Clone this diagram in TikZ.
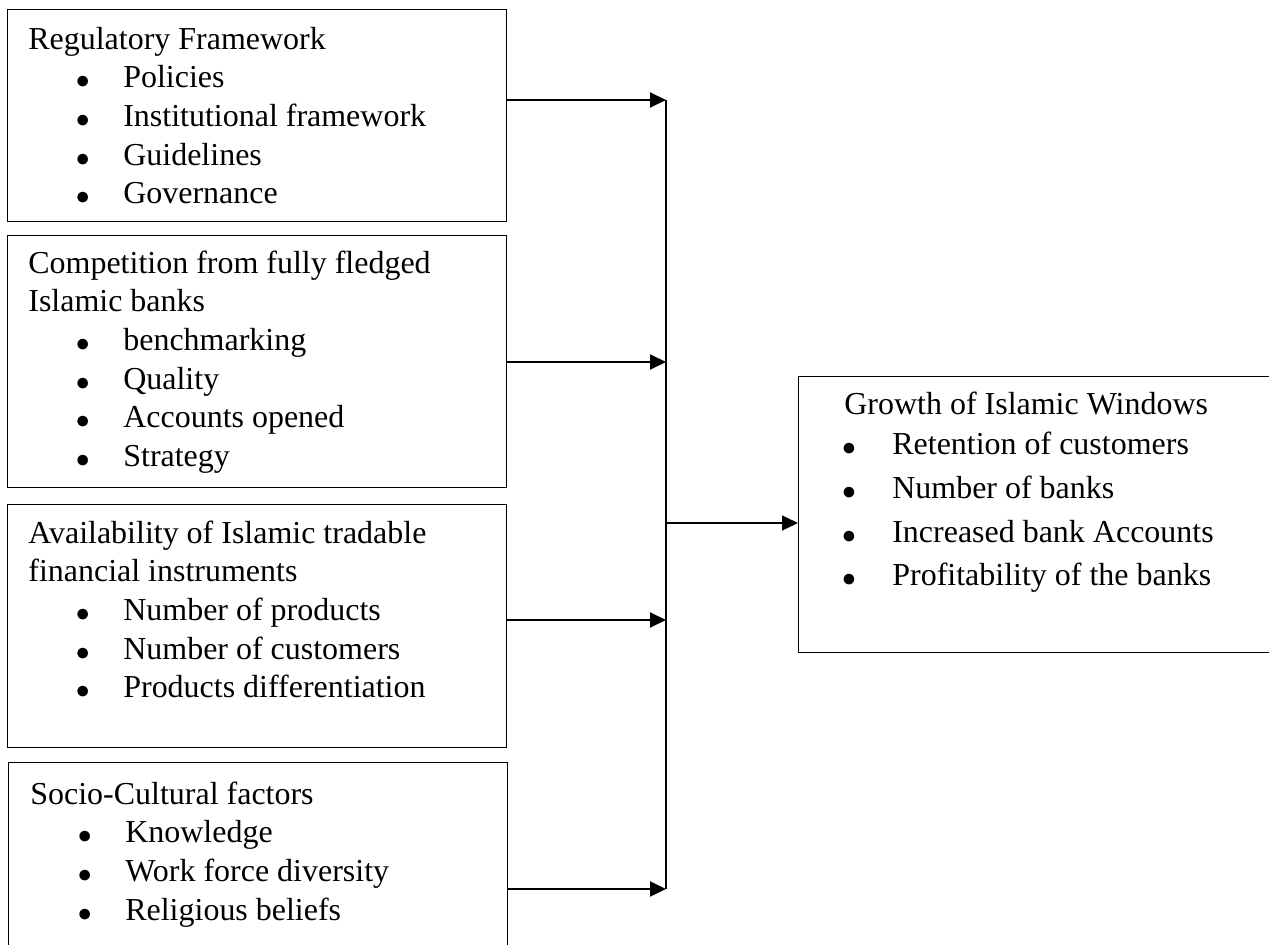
\documentclass[tikz,border=0pt]{standalone}
\usepackage{fontspec}
\setmainfont{Liberation Serif}
\usetikzlibrary{arrows.meta}

\newcommand{\dotmark}{\raisebox{-0.02cm}{\fontsize{14pt}{14pt}\selectfont ●}}
\newcommand{\fitem}[1]{\hspace*{0.94cm}\makebox[0.96cm][l]{\dotmark}#1}
\newcommand{\gitem}[1]{\hspace*{-0.056cm}\makebox[1.016cm][l]{\dotmark}#1}

\begin{document}
\begin{tikzpicture}[x=0.02cm, y=-0.02cm,
    factor/.style={draw, line width=0.8pt, rectangle, inner sep=0pt, anchor=north west, minimum width=9.98cm},
    outcome/.style={draw, line width=0.8pt, rectangle, inner sep=0pt, anchor=north west, minimum width=9.84cm, minimum height=5.52cm},
    itemtext/.style={anchor=north west, inner sep=0pt, align=left, font=\fontsize{18.2pt}{22pt}\selectfont},
    feed/.style={-{Triangle[length=0.32cm, width=0.3cm]}, line width=1.1pt},
    bus/.style={line width=0.8pt}]
\useasboundingbox (0,0) rectangle (1269,945);

% factors on the left
\node[factor, minimum height=4.24cm] (reg) at (7,9) {};
\node[itemtext] (regtext) at (28,14) {\rule{0pt}{0.7cm}Regulatory Framework\\
    \fitem{Policies}\\ \fitem{Institutional framework}\\ \fitem{Guidelines}\\ \fitem{Governance}};

\node[factor, minimum height=5.04cm] (comp) at (7,235) {};
\node[itemtext] (comptext) at (28,238) {\rule{0pt}{0.7cm}Competition from fully fledged\\ Islamic banks\\
    \fitem{benchmarking}\\ \fitem{Quality}\\ \fitem{Accounts opened}\\ \fitem{Strategy}};

\node[factor, minimum height=4.86cm] (avail) at (7,504) {};
\node[itemtext] (availtext) at (28,508) {\rule{0pt}{0.7cm}Availability of Islamic tradable\\ financial instruments\\
    \fitem{Number of products}\\ \fitem{Number of customers}\\ \fitem{Products differentiation}};

\node[factor, minimum height=3.96cm] (socio) at (8,762) {};
\node[itemtext] (sociotext) at (30,769) {\rule{0pt}{0.7cm}Socio-Cultural factors\\
    \fitem{Knowledge}\\ \fitem{Work force diversity}\\ \fitem{Religious beliefs}};

% outcome on the right
\node[outcome] (growth) at (798,376) {};
\node[itemtext] (growthtext) at (844,379) {\rule{0pt}{0.7cm}Growth of Islamic Windows\\[1pt]
    \gitem{Retention of customers}\\[0.1cm] \gitem{Number of banks}\\[0.1cm]
    \gitem{Increased bank Accounts}\\[0.1cm] \gitem{Profitability of the banks}};

% collecting line
\coordinate (in1) at (666,100);
\coordinate (in2) at (666,362);
\coordinate (in3) at (666,620);
\coordinate (in4) at (666,889);
\coordinate (out) at (666,523);
\draw[bus] (in1) -- (in4);

\draw[feed] (reg.east |- in1) -- (in1);
\draw[feed] (comp.east |- in2) -- (in2);
\draw[feed] (avail.east |- in3) -- (in3);
\draw[feed] (socio.east |- in4) -- (in4);
\draw[feed, line width=0.8pt] (out) -- (growth.west |- out);
\end{tikzpicture}
\end{document}
